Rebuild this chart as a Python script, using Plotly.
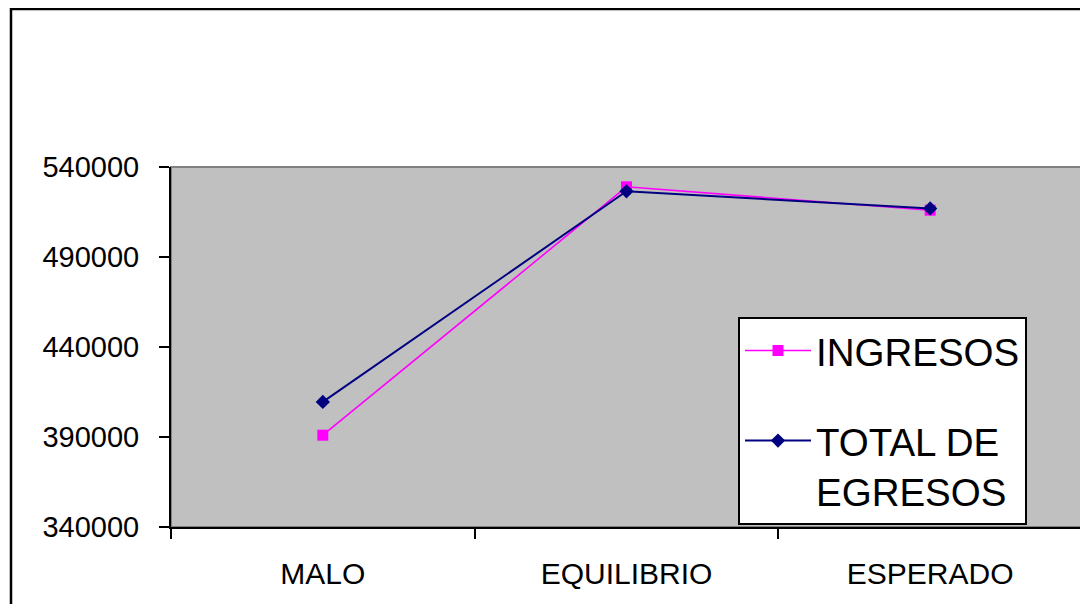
import plotly.graph_objects as go

categories = ["MALO", "EQUILIBRIO", "ESPERADO"]
ingresos = [391000, 529000, 516000]
egresos = [409500, 526500, 517000]
y_ticks = [340000, 390000, 440000, 490000, 540000]

FONT = "Arial, Liberation Sans, sans-serif"

fig = go.Figure()
fig.add_trace(go.Scatter(
    x=categories, y=ingresos, name="INGRESOS", mode="lines+markers",
    line=dict(color="#FF00FF", width=1.6),
    marker=dict(symbol="square", size=11, color="#FF00FF"),
    legendgroup="a",
))
fig.add_trace(go.Scatter(
    x=categories, y=egresos, name="TOTAL DE<br>EGRESOS", mode="lines+markers",
    line=dict(color="#000080", width=2),
    marker=dict(symbol="diamond", size=11, color="#000080"),
    legendgroup="b",
))

# page coordinates of the plot area (page has an 8px body margin)
OFF = 8
L, R, T, B = 171, 1082, 167, 527
W, H = 1080, 596
pw, ph = R - L, B - T

def px(x):
    return (x - L) / pw

def py(y):
    return (B - y) / ph

fig.update_layout(
    width=W, height=H,
    margin=dict(l=L - OFF, r=W - (R - OFF), t=T - OFF, b=H - (B - OFF), autoexpand=False),
    paper_bgcolor="white",
    plot_bgcolor="#C0C0C0",
    font=dict(family=FONT, size=29, color="black"),
    showlegend=True,
    legend=dict(
        x=px(738), y=py(317), xanchor="left", yanchor="top",
        bgcolor="white", bordercolor="black", borderwidth=2,
        font=dict(size=38.5, family=FONT),
        tracegroupgap=37, valign="top", itemwidth=66,
        traceorder="grouped",
    ),
    xaxis=dict(
        type="category", range=[-0.5, 2.5],
        showline=True, linecolor="black", linewidth=2,
        ticks="outside", tickson="boundaries", ticklen=10, tickwidth=1.5, tickcolor="black",
        showgrid=False, zeroline=False, ticklabelstandoff=19,
        tickfont=dict(size=30),
    ),
    yaxis=dict(
        range=[340000, 540000], tickvals=y_ticks, ticktext=[str(v) for v in y_ticks],
        showline=True, linecolor="black", linewidth=2,
        ticks="outside", ticklen=10, tickwidth=1.5, tickcolor="black",
        showgrid=False, zeroline=False, ticklabelstandoff=14,
        tickfont=dict(size=29),
    ),
    shapes=[
        dict(type="rect", xref="paper", yref="paper", x0=0, x1=1, y0=0, y1=1,
             line=dict(color="#808080", width=2), layer="below"),
        dict(type="rect", xref="paper", yref="paper",
             x0=px(11), x1=px(1120), y0=py(9), y1=py(660),
             line=dict(color="black", width=2.5), layer="above"),
    ],
)

fig.write_html("out.html")
